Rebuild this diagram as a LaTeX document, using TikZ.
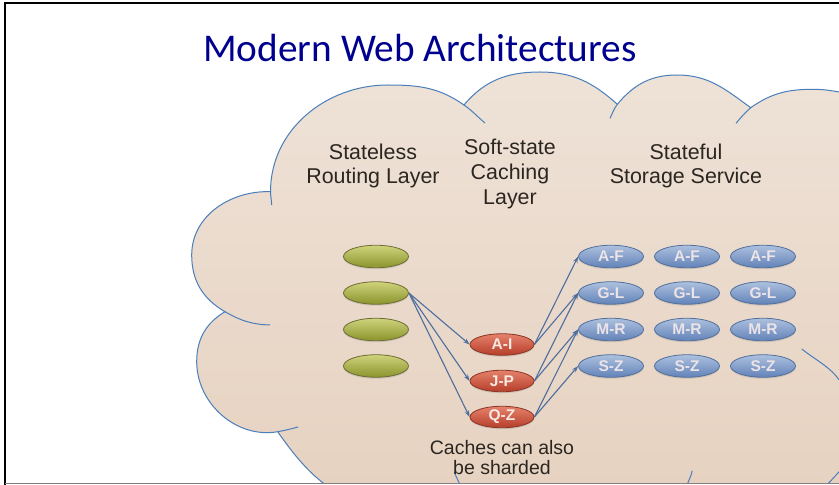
\documentclass[tikz,border=0pt]{standalone}
\usepackage{fontspec}
\setmainfont{Liberation Sans}
\newfontfamily\titlefont{Carlito}
\usetikzlibrary{shapes.geometric,arrows.meta,shadows}

\definecolor{titlenavy}{HTML}{00008E}
\definecolor{labeltext}{HTML}{2C2621}
\definecolor{cloudblue}{HTML}{4A7EBB}
\definecolor{cloudtop}{HTML}{EEE2D7}
\definecolor{cloudbot}{HTML}{E6D1BF}
\definecolor{greentop}{HTML}{CFD37C}
\definecolor{greenbot}{HTML}{8A942C}
\definecolor{greenedge}{HTML}{6F6C36}
\definecolor{redtop}{HTML}{E5826C}
\definecolor{redbot}{HTML}{B63E2A}
\definecolor{rededge}{HTML}{8C3424}
\definecolor{redtext}{HTML}{F7E9E1}
\definecolor{bluetop}{HTML}{ADC1DF}
\definecolor{bluebot}{HTML}{6282B8}
\definecolor{blueedge}{HTML}{52709C}
\definecolor{bluetext}{HTML}{ECE3E6}
\definecolor{linkblue}{HTML}{4D6E9E}

\begin{document}
\begin{tikzpicture}[x=1pt,y=1pt,
  cloudline/.style={draw=cloudblue, line width=1pt},
  podbase/.style={ellipse, minimum width=65pt, minimum height=22.5pt,
    inner sep=0pt, line width=0.8pt,
    drop shadow={shadow xshift=0pt, shadow yshift=-1.5pt, opacity=0.25}},
  router/.style={podbase, draw=greenedge, top color=greentop, bottom color=greenbot},
  cache/.style={podbase, minimum width=64pt, minimum height=21.5pt,
    draw=rededge, top color=redtop, bottom color=redbot,
    text=redtext, font=\bfseries\fontsize{15.5}{15.5}\selectfont},
  store/.style={podbase, draw=blueedge, top color=bluetop, bottom color=bluebot,
    text=bluetext, font=\bfseries\fontsize{15.5}{15.5}\selectfont},
  link/.style={draw=linkblue, line width=1.1pt, -{Stealth[length=6.5pt,width=4.5pt]}},
  heading/.style={anchor=base, text=labeltext, inner sep=0pt,
    font=\fontsize{21.4}{24}\selectfont},
  note/.style={anchor=base, text=labeltext, inner sep=0pt,
    font=\fontsize{19.5}{20}\selectfont}
]
\useasboundingbox (0,0) rectangle (839,485);
\fill[white] (0,0) rectangle (839,485);

% the cloud, cut off by the slide edges
\begin{scope}
  \clip (6,2) rectangle (839,481);
  \path[cloudline, top color=cloudtop, bottom color=cloudbot]
    (270.5,293.3)
    to[out=90,in=180] (388,400)
    to[out=0,in=145] (464,380)
    to[out=50,in=180] (540,413)
    to[out=0,in=138] (617.3,380.7)
    to[out=50,in=180] (677,410)
    to[out=0,in=144] (750.7,377.3)
    to[out=35,in=180] (813,395.7)
    to[out=0,in=175] (860,390)
    -- (900,390) -- (900,-30) -- (360,-30) -- (360,-20)
    to[out=155,in=-55] (277.7,53.3)
    to[out=190,in=-90] (196.7,123.3)
    to[out=90,in=211] (225,173.3)
    to[out=150,in=-90] (191.7,230)
    to[out=90,in=178] (270.5,293.3) -- cycle;
  % inner ends of the lobe arcs
  \draw[cloudline] (270.5,293.3) to[out=-88,in=93] (271.7,280);
  \draw[cloudline] (464,380) to[out=-35,in=140] (485,362);
  \draw[cloudline] (610,366.7) to[out=65,in=235] (617.3,380.7);
  \draw[cloudline] (736,361.7) to[out=50,in=222] (750.7,377.3);
  \draw[cloudline] (225,173.3) to[out=-30,in=178] (270,160);
  \draw[cloudline] (277.7,53.3) to[out=10,in=195] (298,58);
  \draw[cloudline] (801.7,136) to[out=-38,in=115] (845,95);
  \draw[cloudline] (454.3,13.3) to[out=-72,in=112] (461,-2);
  \draw[cloudline] (692.3,14.3) to[out=-102,in=75] (686.5,-2);
  \draw[cloudline] (839,13.3) to[out=-130,in=48] (825,-2);
\end{scope}

% slide border
\draw[black, line width=2pt] (5,0) -- (5,482) -- (839,482);
\draw[gray, line width=1pt] (5,1.5) -- (839,1.5);

% title
\node[anchor=base, inner sep=0pt, text=titlenavy, font=\titlefont\fontsize{39.3}{39}\selectfont]
  (title) at (420,423) {Modern Web Architectures};

% layer headings
\node[heading] (routeA) at (373,325) {Stateless};
\node[heading] (routeB) at (373,301) {Routing Layer};
\node[heading] (cacheA) at (510,330) {Soft-state};
\node[heading] (cacheB) at (510,305) {Caching};
\node[heading] (cacheC) at (510,280) {Layer};
\node[heading] (storeA) at (686,325) {Stateful};
\node[heading] (storeB) at (686,301) {Storage Service};

% routing tier
\node[router] (g1) at (376,228.5) {};
\node[router] (g2) at (376,192) {};
\node[router] (g3) at (376,155.5) {};
\node[router] (g4) at (376,119) {};

% cache shards
\node[cache] (ai) at (502,140.5) {A-I};
\node[cache] (jp) at (502,104) {J-P};
\node[cache] (qz) at (502,68) {Q-Z};

% storage shards, three replicas each
\foreach \col/\x in {1/611,2/687,3/763}{
  \node[store] (af\col) at (\x,228.5) {A-F};
  \node[store] (gl\col) at (\x,192) {G-L};
  \node[store] (mr\col) at (\x,155.5) {M-R};
  \node[store] (sz\col) at (\x,119) {S-Z};
}

% requests from a router to the caches
\draw[link] (g2.east) -- (ai.west);
\draw[link] (g2.east) -- (jp.west);
\draw[link] (g2.east) -- (qz.west);

% caches to storage
\draw[link] (ai.east) -- (af1.west);
\draw[link] (ai.east) -- (gl1.west);
\draw[link] (jp.east) -- (gl1.west);
\draw[link] (jp.east) -- (mr1.west);
\draw[link] (qz.east) -- (mr1.west);
\draw[link] (qz.east) -- (sz1.west);

% footnote
\node[note] (noteA) at (502,30) {Caches can also};
\node[note] (noteB) at (502,10) {be sharded};
\end{tikzpicture}
\end{document}
